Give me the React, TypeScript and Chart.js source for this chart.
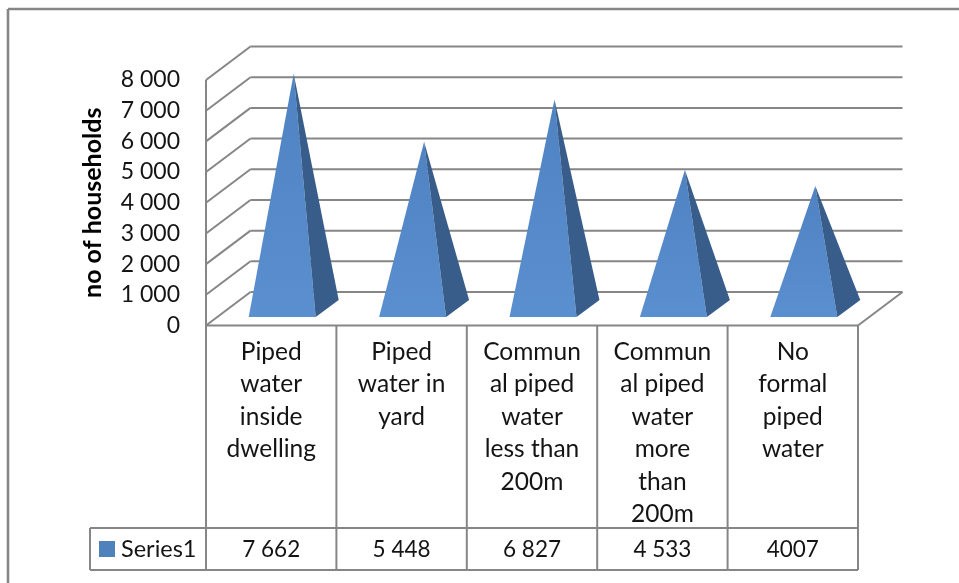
import React, { useEffect, useRef } from "react";
import { Chart, registerables } from "chart.js";

Chart.register(...registerables);

const categories: string[][] = [
  ["Piped", "water", "inside", "dwelling"],
  ["Piped", "water in", "yard"],
  ["Commun", "al piped", "water", "less than", "200m"],
  ["Commun", "al piped", "water", "more", "than", "200m"],
  ["No", "formal", "piped", "water"],
];
const seriesName = "Series1";
const seriesValues = [7662, 5448, 6827, 4533, 4007];
const tableLabels = ["7 662", "5 448", "6 827", "4 533", "4007"];
const yTicks = ["0", "1 000", "2 000", "3 000", "4 000", "5 000", "6 000", "7 000", "8 000"];
const yTitle = "no of households";

const FONT = "Lato, Carlito, sans-serif";
const TEXT = "#141414";
const LINE = "#868686";
const FRONT = "#4f81bd";
const SIDE = "#385d8a";
const DEPTH_X = 44.5;
const DEPTH_Y = 33.5;
const BASE_HALF = 33.5;

const line = (ctx: CanvasRenderingContext2D, x1: number, y1: number, x2: number, y2: number) => {
  ctx.beginPath();
  ctx.moveTo(x1, y1);
  ctx.lineTo(x2, y2);
  ctx.stroke();
};

const framePlugin = {
  id: "frame3d",
  beforeDatasetsDraw(chart: any) {
    const { ctx, chartArea: a, scales } = chart;
    const y = scales.y;
    const x = scales.x;
    ctx.save();
    ctx.strokeStyle = LINE;
    ctx.lineWidth = 2.6;
    line(ctx, 8, 9, 959, 9);
    line(ctx, 8, 9, 8, 583);
    ctx.lineWidth = 2;
    y.ticks.forEach((t: any) => {
      const py = y.getPixelForValue(t.value);
      line(ctx, a.left, py, a.left + DEPTH_X, py - DEPTH_Y);
      line(ctx, a.left + DEPTH_X, py - DEPTH_Y, a.right + DEPTH_X, py - DEPTH_Y);
    });
    line(ctx, a.right, a.bottom, a.right + DEPTH_X, a.bottom - DEPTH_Y);
    // data table
    const rowTop = 528;
    const rowBottom = 570;
    const tableLeft = 90;
    line(ctx, a.left, a.top, a.left, rowBottom);
    line(ctx, a.left, a.bottom, a.right, a.bottom);
    line(ctx, tableLeft, rowTop, a.right, rowTop);
    line(ctx, tableLeft, rowBottom, a.right, rowBottom);
    line(ctx, tableLeft, rowTop, tableLeft, rowBottom);
    const step = (a.right - a.left) / categories.length;
    categories.forEach((_, i) => {
      const cx = x.getPixelForValue(i) + step / 2;
      line(ctx, cx, a.bottom, cx, rowBottom);
    });
    ctx.fillStyle = FRONT;
    ctx.fillRect(99, 541, 16, 16);
    ctx.fillStyle = TEXT;
    ctx.font = `23.5px ${FONT}`;
    ctx.textBaseline = "middle";
    ctx.textAlign = "left";
    ctx.fillText(seriesName, 121, 549);
    ctx.font = `22.5px ${FONT}`;
    ctx.textAlign = "center";
    tableLabels.forEach((t, i) => ctx.fillText(t, x.getPixelForValue(i), 550));
    ctx.restore();
  },
  beforeDatasetDraw(chart: any, args: any) {
    const { ctx } = chart;
    const meta = chart.getDatasetMeta(args.index);
    ctx.save();
    meta.data.forEach((el: any) => {
      const cx = el.x + 11;
      const by = el.base - 8.5;
      const ax = cx + 11.5;
      const ay = el.y - 16.5;
      const grad = ctx.createLinearGradient(0, ay, 0, by);
      grad.addColorStop(0, "#4f82c1");
      grad.addColorStop(1, "#5a8fd0");
      ctx.fillStyle = grad;
      ctx.beginPath();
      ctx.moveTo(ax, ay);
      ctx.lineTo(cx - BASE_HALF, by);
      ctx.lineTo(cx + BASE_HALF, by);
      ctx.closePath();
      ctx.fill();
      ctx.fillStyle = SIDE;
      ctx.beginPath();
      ctx.moveTo(ax, ay);
      ctx.lineTo(cx + BASE_HALF, by);
      ctx.lineTo(cx + BASE_HALF + 23, by - 17);
      ctx.closePath();
      ctx.fill();
    });
    ctx.restore();
    return false;
  },
};

export default function App() {
  const ref = useRef<HTMLCanvasElement>(null);
  useEffect(() => {
    const chart = new Chart(ref.current!, {
      type: "bar",
      data: {
        labels: categories,
        datasets: [{ label: seriesName, data: seriesValues, backgroundColor: FRONT }],
      },
      options: {
        animation: false,
        responsive: false,
        layout: { padding: { top: 80, right: 101, left: 0, bottom: 0 } },
        plugins: { legend: { display: false }, title: { display: false }, tooltip: { enabled: false } },
        scales: {
          x: {
            grid: { display: false },
            border: { display: false },
            afterFit: (s: any) => { s.height = 257.5; },
            ticks: {
              autoSkip: false,
              maxRotation: 0,
              minRotation: 0,
              padding: 2,
              color: TEXT,
              font: { family: FONT, size: 24.5, lineHeight: "32.5px" },
            },
          },
          y: {
            min: 0,
            max: 8000,
            grid: { display: false, drawTicks: false },
            border: { display: false },
            afterFit: (s: any) => { s.width = 206; },
            afterBuildTicks: (s: any) => {
              s.ticks = yTicks.map((_, i) => ({ value: i * 1000 }));
            },
            title: {
              display: true,
              text: yTitle,
              color: "#000",
              font: { family: FONT, size: 25, weight: "bold" },
              padding: { top: 78, bottom: 0 },
            },
            ticks: {
              padding: 26,
              color: TEXT,
              font: { family: FONT, size: 23 },
              callback: (_v: any, i: number) => yTicks[i],
            },
          },
        },
      },
      plugins: [framePlugin],
    } as any);
    return () => chart.destroy();
  }, []);
  return (
    <div style={{ position: "absolute", left: 0, top: 0, width: 959, height: 583, overflow: "hidden", background: "#fff" }}>
      <canvas ref={ref} width={959} height={583} style={{ display: "block", filter: "blur(0.4px)" }} />
    </div>
  );
}
